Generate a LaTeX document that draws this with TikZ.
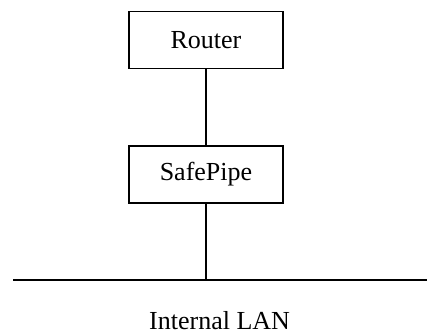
\documentclass[tikz,border=0pt]{standalone}
\usepackage{fontspec}
\setmainfont{Liberation Serif}
\begin{document}
\begin{tikzpicture}[x=1pt,y=-1pt,
  box/.style={draw=black,line width=1.8pt,minimum width=154pt,minimum height=57pt,inner sep=0pt,font=\fontsize{26}{30}\selectfont},
  wire/.style={line width=1.8pt,draw=black},
  lbl/.style={inner sep=0pt,font=\fontsize{26}{30}\selectfont}]
\useasboundingbox (0,0) rectangle (427,335);
\node[box] (router) at (206,40) {Router};
\node[box] (safepipe) at (206,174.5) {SafePipe};
\coordinate (tap) at (206,280);
\coordinate (lanL) at (13,280);
\coordinate (lanR) at (427,280);
\node[lbl,anchor=base west] (lan) at (149,329) {Internal LAN};
\draw[wire] (router.south) -- (safepipe.north);
\draw[wire] (safepipe.south) -- (tap);
\draw[wire] (lanL) -- (lanR);
\end{tikzpicture}
\end{document}
